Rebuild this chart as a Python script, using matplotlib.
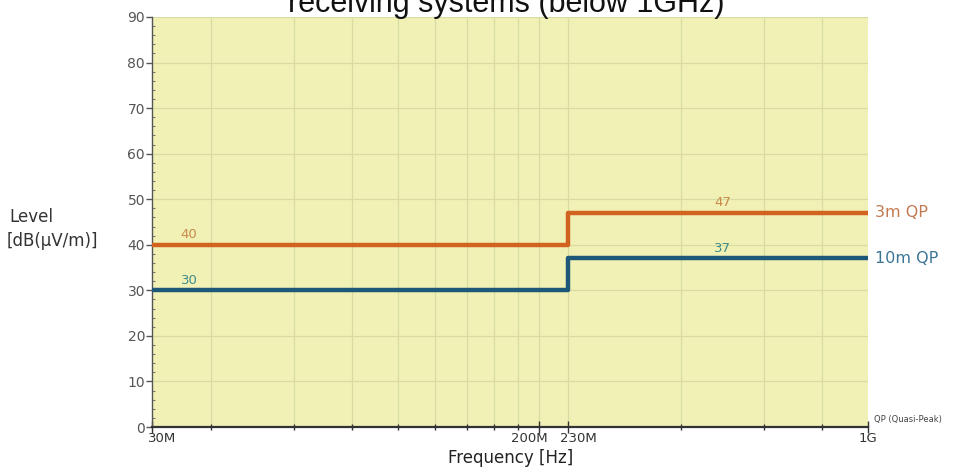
import matplotlib
matplotlib.use("Agg")
import matplotlib.pyplot as plt
from matplotlib.ticker import FixedLocator, NullFormatter, MultipleLocator
from matplotlib.transforms import ScaledTranslation

# Limit data (frequency in MHz, level in dB(uV/m))
freq_edges = [30, 230, 1000]
level_3m = [40, 47, 47]
level_10m = [30, 37, 37]
label_pos_3m = [36, 490]
label_pos_10m = [36, 490]
labels_3m = ["40", "47"]
labels_10m = ["30", "37"]

grid_freqs = [40, 60, 80, 100, 120, 140, 160, 180, 200, 230, 400, 600, 800]
tick_freqs = [30, 200, 230, 1000]
tick_labels = ["30M", "200M", "230M", "1G"]
tick_shift_px = [10, -10, 10, 0]  # nudge so 200M/230M don't collide

orange = "#d2631f"
blue = "#1d5878"
bg = "#f1f1b5"
gridc = "#d9dca2"

fig = plt.figure(figsize=(9.64, 4.69), dpi=100)
ax = fig.add_axes([152 / 964, 42 / 469, 716 / 964, 410 / 469])
ax.set_facecolor(bg)

ax.set_xscale("log")
ax.set_xlim(30, 1000)
ax.set_ylim(0, 90)

# grid
for f in grid_freqs:
    ax.axvline(f, color=gridc, lw=0.9, zorder=0)
for y in range(10, 91, 10):
    ax.axhline(y, color=gridc, lw=0.9, zorder=0)

# limit lines
ax.step(freq_edges, level_3m, where="post", color=orange, lw=3.2, zorder=3)
ax.step(freq_edges, level_10m, where="post", color=blue, lw=3.2, zorder=3)

for x, y, t in zip(label_pos_3m, level_3m[:2], labels_3m):
    ax.text(x, y + 0.8, t, color="#c98a4c", fontsize=9.5, ha="center", va="bottom")
for x, y, t in zip(label_pos_10m, level_10m[:2], labels_10m):
    ax.text(x, y + 0.8, t, color="#3f8c8c", fontsize=9.5, ha="center", va="bottom")

ax.text(1.01, level_3m[-1], "3m QP", transform=ax.get_yaxis_transform(),
        color="#c27a52", fontsize=11.5, va="center", ha="left")
ax.text(1.01, level_10m[-1], "10m QP", transform=ax.get_yaxis_transform(),
        color="#3b7696", fontsize=11.5, va="center", ha="left")
ax.text(1.008, 0.7, "QP (Quasi-Peak)", transform=ax.get_yaxis_transform(),
        color="#444444", fontsize=6, va="bottom", ha="left")

# axes styling
for s in ["top", "right"]:
    ax.spines[s].set_visible(False)
ax.spines["left"].set_color("#555555")
ax.spines["left"].set_linewidth(1.0)
ax.spines["bottom"].set_color("#333333")
ax.spines["bottom"].set_linewidth(1.6)

ax.xaxis.set_major_locator(FixedLocator(tick_freqs))
ax.xaxis.set_major_formatter(NullFormatter())
ax.xaxis.set_minor_locator(FixedLocator(grid_freqs))
ax.xaxis.set_minor_formatter(NullFormatter())
ax.tick_params(axis="x", which="major", direction="inout", length=8, width=1,
               colors="#333333")
ax.tick_params(axis="x", which="minor", direction="inout", length=4, width=1,
               colors="#333333")

# x tick labels drawn as text so they can be nudged apart
for f, lab, dx in zip(tick_freqs, tick_labels, tick_shift_px):
    tr = ax.get_xaxis_transform() + ScaledTranslation(dx / 100, 0, fig.dpi_scale_trans)
    ax.text(f, -0.012, lab, transform=tr, ha="center", va="top",
            fontsize=9.5, color="#333333")

ax.yaxis.set_major_locator(MultipleLocator(10))
ax.yaxis.set_minor_locator(MultipleLocator(2))
ax.tick_params(axis="y", which="major", direction="out", length=4, width=1,
               labelsize=10, colors="#555555", pad=1)
ax.tick_params(axis="y", which="minor", direction="in", length=2, width=0.8,
               colors="#777777")

fig.text(511 / 964, 1 - 458 / 469, "Frequency [Hz]", fontsize=12,
         color="#222222", ha="center", va="center")
fig.text(9 / 964, 1 - 217 / 469, "Level", fontsize=12, color="#333333",
         va="center", ha="left")
fig.text(7 / 964, 1 - 241 / 469, "[dB(μV/m)]", fontsize=12, color="#333333",
         va="center", ha="left")

# title, partly cut off at the top as in the source image
fig.text(506 / 964, 1 - 12 / 469, "receiving systems (below 1GHz)", fontsize=22,
         family="Liberation Sans", color="#111111", ha="center", va="baseline")

fig.savefig("out.png", dpi=100)
